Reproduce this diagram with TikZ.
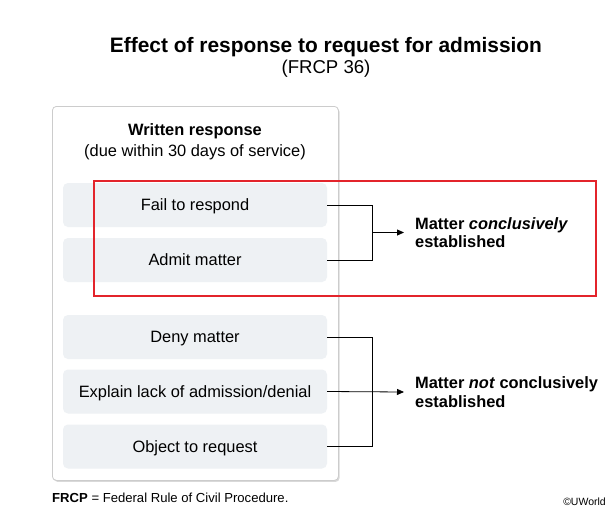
\documentclass[tikz,border=0pt]{standalone}
\usepackage{fontspec}
\setmainfont{Liberation Sans}
\usetikzlibrary{arrows.meta,shadows}
\definecolor{boxfill}{HTML}{EEF1F4}
\definecolor{outerline}{HTML}{CCCCCC}
\definecolor{redline}{HTML}{E3242B}
\begin{document}
\begin{tikzpicture}[x=1pt,y=-1pt,
  outerbox/.style={draw=outerline, line width=0.8pt, fill=white, rounded corners=4pt,
    drop shadow={shadow xshift=1.2pt, shadow yshift=-1.5pt, opacity=0.25, fill=black!60}},
  optbox/.style={fill=boxfill, rounded corners=5pt, minimum width=264pt, minimum height=44pt,
    inner sep=0pt, text height=11.8pt, text depth=0pt, font=\fontsize{16.4}{19}\selectfont},
  restext/.style={anchor=west, align=left, inner xsep=11pt, inner ysep=0pt,
    font=\fontsize{16.4}{18.5}\selectfont\bfseries},
  conn/.style={draw=black, line width=0.8pt},
  arr/.style={conn, -{Triangle[length=7pt,width=6pt]}}
]
\useasboundingbox (0,0) rectangle (613,517);

% title
\node (title) at (326,47) {\fontsize{20.9}{24}\selectfont\bfseries Effect of response to request for admission};
\node (subtitle) at (326,69) {\fontsize{18.6}{21}\selectfont (FRCP 36)};

% outer box
\node (outer) [outerbox, anchor=north west, minimum width=286pt, minimum height=374pt] at (52,106) {};
\node (wr1) at (195,131) {\fontsize{16.4}{19}\selectfont\bfseries Written response};
\node (wr2) at (195,152) {\fontsize{16.4}{19}\selectfont (due within 30 days of service)};

% option boxes
\node (fail) [optbox] at (195,205) {Fail to respond};
\node (admit) [optbox] at (195,260) {Admit matter};
\node (deny) [optbox] at (195,337) {Deny matter};
\node (explain) [optbox] at (195,391.5) {Explain lack of admission/denial};
\node (object) [optbox] at (195,446.5) {Object to request};

% result texts
\node (res1) [restext] at (404,232.5) {Matter \textit{conclusively}\\established};
\node (res2) [restext] at (404,392) {Matter \textit{not} conclusively\\established};

% connectors
\coordinate (v1) at (372,0);
\draw[conn] (fail.east) -| (v1 |- admit.east) -- (admit.east);
\draw[arr] (v1 |- res1.west) -- (res1.west);
\draw[conn] (deny.east) -| (v1 |- object.east) -- (object.east);
\draw[arr] (explain.east) -- (res2.west);

% red highlight
\node (hl) [draw=redline, line width=1.6pt, anchor=north west, minimum width=502pt, minimum height=115pt, inner sep=0pt] at (93,180) {};

% footer
\node (foot) [anchor=base west, inner sep=0pt] at (52,502) {\fontsize{13.1}{15}\selectfont\textbf{FRCP} = Federal Rule of Civil Procedure.};
\node (copy) [anchor=base east, inner sep=0pt] at (606,505) {\fontsize{10.5}{12}\selectfont ©UWorld};
\end{tikzpicture}
\end{document}
